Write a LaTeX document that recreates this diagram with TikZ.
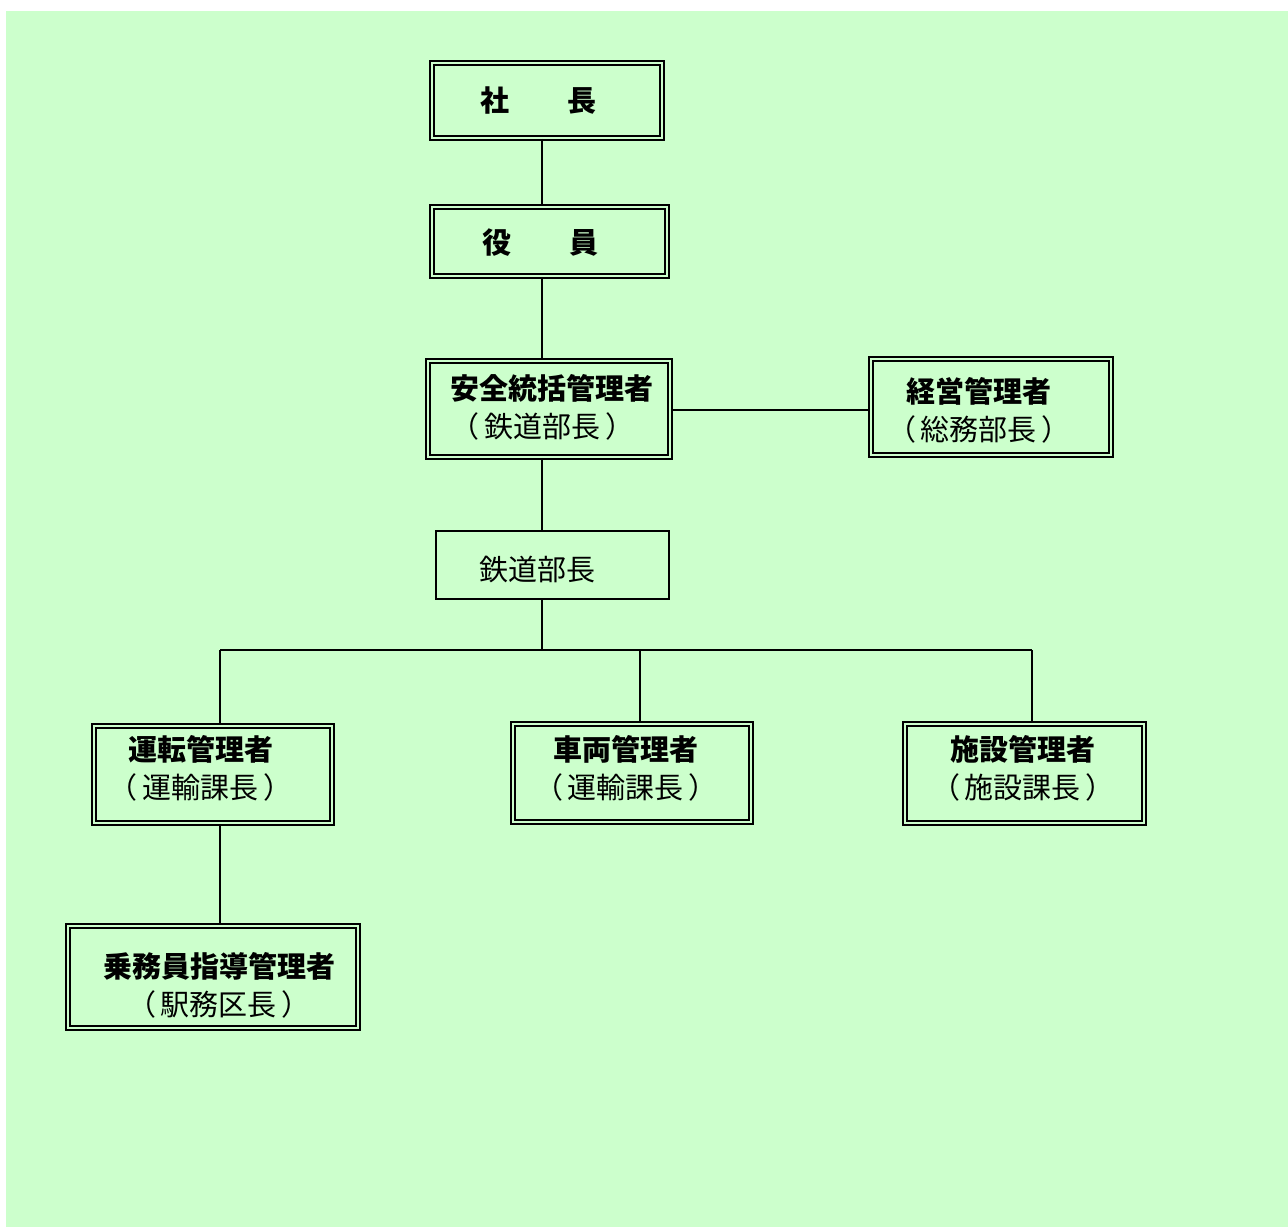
\documentclass[tikz,border=0pt]{standalone}
\usepackage{fontspec}
\setmainfont{Noto Sans CJK JP}
\usetikzlibrary{positioning}
\definecolor{bggreen}{HTML}{CCFFCC}
\newcommand\kakko[1]{（\hspace{5pt}#1\hspace{5pt}）}

\begin{document}
\begin{tikzpicture}[x=1pt,y=-1pt,
  post/.style={draw,double=bggreen,double distance=2.5pt,line width=1.5pt,inner sep=0pt},
  plainpost/.style={draw,line width=1.5pt,inner sep=0pt},
  ttl/.style={inner sep=0pt,align=center,font=\fontsize{29}{38}\selectfont},
  link/.style={line width=1.4pt}]
  \useasboundingbox (0,0) rectangle (1288,1227);
  \fill[white] (0,0) rectangle (1288,1227);
  \fill[bggreen] (6,11) rectangle (1288,1227);

  % upper chain
  \node[post,minimum width=230,minimum height=75] (shacho) at (547,100.5) {};
  \node[post,minimum width=235,minimum height=69] (yakuin) at (549.5,241.5) {};
  \node[post,minimum width=242,minimum height=96] (anzen) at (549,409) {};
  \node[post,minimum width=240,minimum height=96] (keiei) at (991,407) {};
  \node[plainpost,minimum width=233,minimum height=68] (tetsudo) at (552.5,565) {};

  \node[ttl] (shacho-t) at ([shift={(-8.5,0)}]shacho.center) {\bfseries 社　　長};
  \node[ttl] (yakuin-t) at ([shift={(-9.5,1.5)}]yakuin.center) {\bfseries 役　　員};
  \node[ttl,align=left] (anzen-t) at ([shift={(3,-1.5)}]anzen.center) {\bfseries 安全統括管理者\\\kakko{鉄道部長}};
  \node[ttl] (keiei-t) at ([shift={(-12,3)}]keiei.center) {\bfseries 経営管理者\\\kakko{総務部長}};
  \node[ttl] (tetsudo-t) at ([shift={(-15,5)}]tetsudo.center) {鉄道部長};

  % lower row
  \node[post,minimum width=238,minimum height=97] (unten) at (213,774.5) {};
  \node[post,minimum width=238,minimum height=98] (sharyo) at (632,773) {};
  \node[post,minimum width=239,minimum height=99] (shisetsu) at (1024.5,773.5) {};
  \node[post,minimum width=290,minimum height=102] (jomuin) at (213,977) {};

  \node[ttl] (unten-t) at ([shift={(-12.5,-6.5)}]unten.center) {\bfseries 運転管理者\\\kakko{運輸課長}};
  \node[ttl] (sharyo-t) at ([shift={(-6,-5)}]sharyo.center) {\bfseries 車両管理者\\\kakko{運輸課長}};
  \node[ttl] (shisetsu-t) at ([shift={(-1.5,-5.5)}]shisetsu.center) {\bfseries 施設管理者\\\kakko{施設課長}};
  \node[ttl] (jomuin-t) at ([shift={(6,8)}]jomuin.center) {\bfseries 乗務員指導管理者\\\kakko{駅務区長}};

  % trunk and branches
  \coordinate (trunk) at (542,650);
  \coordinate (busL) at (220,650);
  \coordinate (busM) at (640,650);
  \coordinate (busR) at (1032,650);
  \draw[link] (trunk |- shacho.south) -- (trunk |- yakuin.north);
  \draw[link] (trunk |- yakuin.south) -- (trunk |- anzen.north);
  \draw[link] (trunk |- anzen.south) -- (trunk |- tetsudo.north);
  \draw[link] (trunk |- tetsudo.south) -- (trunk);
  \draw[link] (anzen.east |- 0,410) -- (keiei.west |- 0,410);
  \draw[link] (busL) -- (busR);
  \foreach \bus/\post in {busL/unten,busM/sharyo,busR/shisetsu} { %drop to each post
    \draw[link] (\bus) -- (\bus |- \post.north);
  }
  \draw[link] (busL |- unten.south) -- (busL |- jomuin.north);
\end{tikzpicture}
\end{document}
